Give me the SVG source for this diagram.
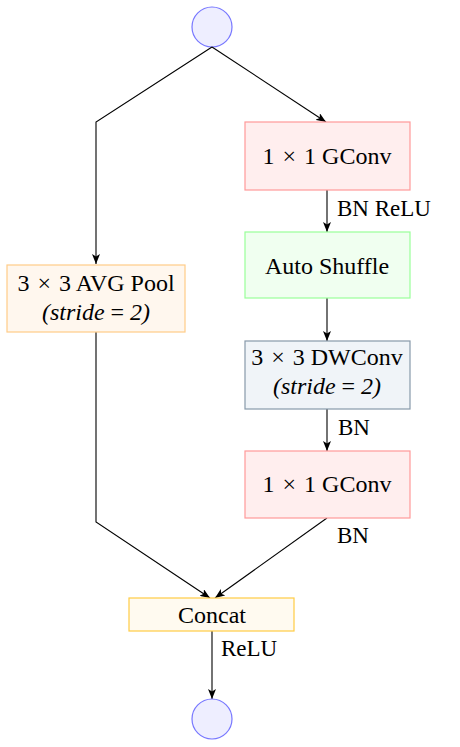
<svg xmlns="http://www.w3.org/2000/svg" width="460" height="747" viewBox="0 0 460 747">
<style>
text{font-family:"Liberation Serif","Times New Roman",serif;fill:#000}
.n{font-size:24px;text-anchor:middle}
.i{font-style:italic}
.l{font-size:23px}
.e{fill:none;stroke:#000;stroke-width:1.1}
</style>
<defs>
<marker id="a" viewBox="0 0 10 8" refX="10" refY="4" markerWidth="10" markerHeight="8" markerUnits="userSpaceOnUse" orient="auto">
<path d="M0,0 L10,4 L0,8 L2.5,4 Z" fill="#000"/>
</marker>
</defs>
<g id="in"><circle cx="212" cy="27" r="20" fill="#eeeeff" stroke="#7777ff" stroke-width="1.2"/></g>
<g id="connectors">
<polyline class="e" points="212,47 96,122 96,264" marker-end="url(#a)"/>
<polyline class="e" points="212,47 326,122" marker-end="url(#a)"/>
<line class="e" x1="327" y1="190" x2="327" y2="232" marker-end="url(#a)"/>
<line class="e" x1="327" y1="298" x2="327" y2="341" marker-end="url(#a)"/>
<line class="e" x1="327" y1="409" x2="327" y2="451" marker-end="url(#a)"/>
<polyline class="e" points="96,332 96,522 210,598" marker-end="url(#a)"/>
<polyline class="e" points="327,518 215,598" marker-end="url(#a)"/>
<line class="e" x1="212" y1="631" x2="212" y2="699" marker-end="url(#a)"/>
<text class="l" x="337" y="216">BN ReLU</text>
<text class="l" x="338" y="435">BN</text>
<text class="l" x="337" y="543">BN</text>
<text class="l" x="221" y="656">ReLU</text>
</g>
<g id="avgpool">
<rect x="7" y="265" width="178" height="67" fill="#fff7ee" stroke="#ffcc88" stroke-width="1.2"/>
<text class="n" x="96" y="291">3 <tspan dx="2">×</tspan> <tspan dx="2">3</tspan> AVG Pool</text>
<text class="n" x="96" y="320"><tspan class="i">(stride</tspan> = <tspan class="i">2)</tspan></text>
</g>
<g id="gconv1">
<rect x="245" y="122" width="165" height="68" fill="#ffeeee" stroke="#ff9999" stroke-width="1.2"/>
<text class="n" x="327" y="164">1 <tspan dx="2">×</tspan> <tspan dx="2">1</tspan> GConv</text>
</g>
<g id="shuffle">
<rect x="245" y="232" width="165" height="66" fill="#f0fff0" stroke="#99ff99" stroke-width="1.2"/>
<text class="n" x="327" y="274">Auto Shuffle</text>
</g>
<g id="dwconv">
<rect x="245" y="341" width="165" height="68" fill="#f0f4f8" stroke="#8899aa" stroke-width="1.2"/>
<text class="n" x="327" y="365">3 <tspan dx="2">×</tspan> <tspan dx="2">3</tspan> DWConv</text>
<text class="n" x="327" y="394"><tspan class="i">(stride</tspan> = <tspan class="i">2)</tspan></text>
</g>
<g id="gconv2">
<rect x="245" y="451" width="165" height="67" fill="#ffeeee" stroke="#ff9999" stroke-width="1.2"/>
<text class="n" x="327" y="492">1 <tspan dx="2">×</tspan> <tspan dx="2">1</tspan> GConv</text>
</g>
<g id="concat">
<rect x="129" y="598" width="165" height="33" fill="#fffaf0" stroke="#ffcc44" stroke-width="1.2"/>
<text class="n" x="212" y="623">Concat</text>
</g>
<g id="out"><circle cx="212" cy="719" r="20" fill="#eeeeff" stroke="#7777ff" stroke-width="1.2"/></g>
</svg>
